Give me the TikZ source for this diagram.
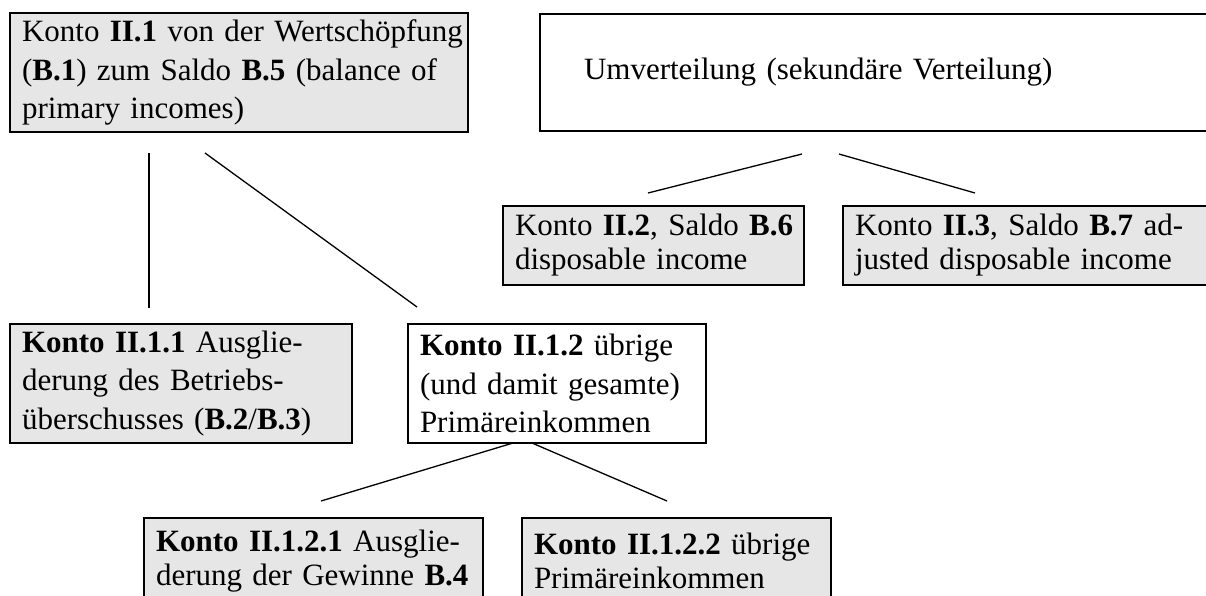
\documentclass[tikz,border=0pt]{standalone}
\usepackage{fontspec}
\setmainfont{Liberation Serif}
\definecolor{boxgray}{RGB}{230,230,230}
\tikzset{
  kbox/.style={draw, line width=2pt, fill=boxgray, anchor=north west, inner xsep=12pt, inner ysep=0pt, align=left, font=\fontsize{31}{38.5}\selectfont},
  wbox/.style={kbox, fill=white},
  lnk/.style={line width=1.3pt},
}
\newcommand{\jline}[2]{\makebox[#1][s]{#2}}

\begin{document}
\begin{tikzpicture}[x=1pt, y=-1pt]
    \useasboundingbox (0,0) rectangle (1206,595);

    % Konto II.1 und Umverteilung
    \node (k1) [kbox, text width=434pt, minimum height=119pt] at (9,12) {\jline{434pt}{Konto \textbf{II.1} von der Wertschöpfung}\\\jline{434pt}{(\textbf{B.1}) zum Saldo \textbf{B.5} (balance of}\\primary incomes)};
    \node (umv) [wbox, inner xsep=44pt, text width=588pt, minimum height=117pt] at (539,13) {Umverteilung (sekundäre Verteilung)};

    % Konto II.2 / II.3
    \node (k2) [kbox, inner xsep=10pt, text width=281pt, minimum height=79pt, font=\fontsize{31}{34}\selectfont] at (502,205) {\hspace*{2pt}Konto \textbf{II.2}, Saldo \textbf{B.6}\\\hspace*{2pt}disposable income};
    \node (k3) [kbox, text width=346pt, minimum height=79pt, font=\fontsize{31}{34}\selectfont] at (842,205) {\jline{344pt}{Konto \textbf{II.3}, Saldo \textbf{B.7} ad-}\\justed disposable income};

    % Konto II.1.1 / II.1.2
    \node (k11) [kbox, text width=318pt, minimum height=119pt] at (9,323) {\textbf{Konto II.1.1} Ausglie-\\derung des Betriebs-\\überschusses (\textbf{B.2}/\textbf{B.3})};
    \node (k12) [wbox, text width=274pt, minimum height=119pt] at (407,323) {\textbf{Konto II.1.2} übrige\\(und damit gesamte)\\Primäreinkommen};

    % Konto II.1.2.1 / II.1.2.2
    \node (k121) [kbox, text width=315pt, minimum height=86pt, font=\fontsize{31}{34}\selectfont] at (143,517) {\textbf{Konto II.1.2.1} Ausglie-\\derung der Gewinne \textbf{B.4}};
    \node (k122) [kbox, text width=285pt, minimum height=86pt, font=\fontsize{31}{34}\selectfont] at (521,517) {\textbf{Konto II.1.2.2} übrige\\Primäreinkommen};

    % Verbindungslinien
    \coordinate (a1) at (149,153);
    \coordinate (a2) at (149,308);
    \coordinate (b1) at (205,153);
    \coordinate (b2) at (417,307);
    \coordinate (c1) at (802,154);
    \coordinate (c2) at (648,193);
    \coordinate (d1) at (839,154);
    \coordinate (d2) at (975,193);
    \coordinate (e1) at (513,443);
    \coordinate (e2) at (321,501);
    \coordinate (f1) at (532,443);
    \coordinate (f2) at (667,501);
    \draw[lnk] (a1) -- (a2);
    \draw[lnk] (b1) -- (b2);
    \draw[lnk] (c1) -- (c2);
    \draw[lnk] (d1) -- (d2);
    \draw[lnk] (e1) -- (e2);
    \draw[lnk] (f1) -- (f2);
\end{tikzpicture}
\end{document}
